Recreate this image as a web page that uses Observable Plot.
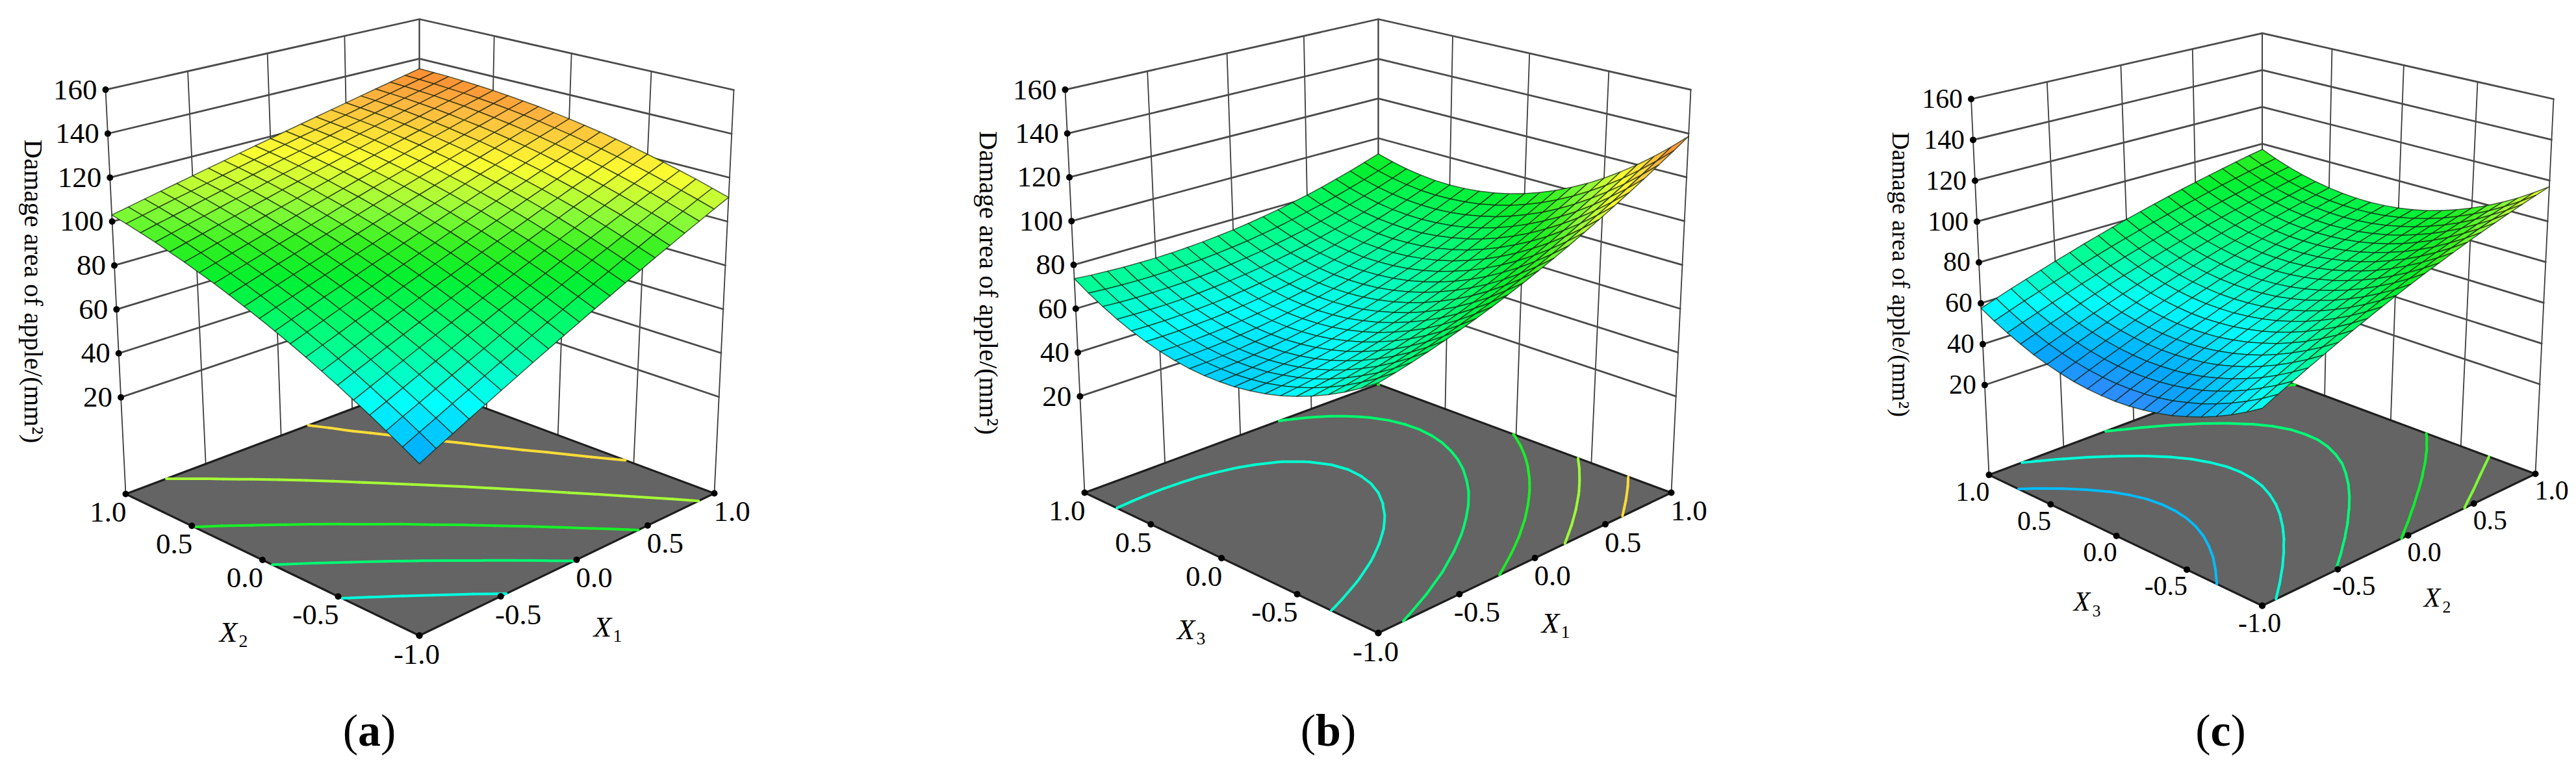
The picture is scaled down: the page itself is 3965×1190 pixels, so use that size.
<!DOCTYPE html>
<html>
<head>
<meta charset="utf-8">
<style>html,body{margin:0;padding:0;background:#fff}svg{display:block}</style>
<script src="https://cdn.jsdelivr.net/npm/d3@7"></script>
<script src="https://cdn.jsdelivr.net/npm/@observablehq/plot@0.6"></script>
</head>
<body>
<div id="chart"></div>
<script>
// Damage area read at 21 x 21 nodes. Rows: second factor -1..1, columns: first factor -1..1.
const surfaceA = [
[44.0,47.4,50.7,54.1,57.4,60.8,64.1,67.5,70.8,74.2,77.5,80.9,84.2,87.6,90.9,94.3,97.6,101.0,104.3,107.7,111.0],
[48.0,51.3,54.5,57.8,61.0,64.3,67.6,70.8,74.1,77.4,80.6,83.9,87.1,90.4,93.7,96.9,100.2,103.5,106.7,110.0,113.2],
[51.9,55.1,58.2,61.4,64.6,67.8,70.9,74.1,77.3,80.5,83.6,86.8,90.0,93.2,96.3,99.5,102.7,105.9,109.0,112.2,115.4],
[55.7,58.7,61.8,64.9,68.0,71.1,74.2,77.3,80.4,83.4,86.5,89.6,92.7,95.8,98.9,102.0,105.1,108.1,111.2,114.3,117.4],
[59.3,62.3,65.3,68.3,71.3,74.3,77.3,80.3,83.3,86.3,89.3,92.3,95.3,98.3,101.3,104.3,107.3,110.3,113.3,116.3,119.3],
[62.9,65.8,68.7,71.6,74.5,77.4,80.3,83.3,86.2,89.1,92.0,94.9,97.8,100.7,103.7,106.6,109.5,112.4,115.3,118.2,121.1],
[66.3,69.1,72.0,74.8,77.6,80.4,83.3,86.1,88.9,91.7,94.6,97.4,100.2,103.0,105.9,108.7,111.5,114.3,117.2,120.0,122.8],
[69.7,72.4,75.1,77.9,80.6,83.3,86.1,88.8,91.6,94.3,97.0,99.8,102.5,105.2,108.0,110.7,113.4,116.2,118.9,121.7,124.4],
[72.9,75.5,78.2,80.8,83.5,86.1,88.8,91.4,94.1,96.7,99.4,102.0,104.7,107.3,110.0,112.6,115.3,117.9,120.6,123.2,125.9],
[76.0,78.6,81.1,83.7,86.2,88.8,91.4,93.9,96.5,99.1,101.6,104.2,106.7,109.3,111.9,114.4,117.0,119.6,122.1,124.7,127.2],
[79.0,81.5,84.0,86.4,88.9,91.4,93.9,96.3,98.8,101.3,103.8,106.2,108.7,111.2,113.7,116.1,118.6,121.1,123.6,126.0,128.5],
[81.9,84.3,86.7,89.1,91.4,93.8,96.2,98.6,101.0,103.4,105.8,108.2,110.5,112.9,115.3,117.7,120.1,122.5,124.9,127.3,129.6],
[84.7,87.0,89.3,91.6,93.9,96.2,98.5,100.8,103.1,105.4,107.7,110.0,112.3,114.6,116.9,119.2,121.5,123.8,126.1,128.4,130.7],
[87.4,89.6,91.8,94.0,96.2,98.4,100.6,102.8,105.1,107.3,109.5,111.7,113.9,116.1,118.3,120.5,122.7,125.0,127.2,129.4,131.6],
[89.9,92.0,94.2,96.3,98.4,100.5,102.7,104.8,106.9,109.0,111.2,113.3,115.4,117.5,119.7,121.8,123.9,126.0,128.2,130.3,132.4],
[92.4,94.4,96.5,98.5,100.5,102.6,104.6,106.6,108.7,110.7,112.8,114.8,116.8,118.9,120.9,122.9,125.0,127.0,129.1,131.1,133.1],
[94.7,96.7,98.6,100.6,102.5,104.5,106.4,108.4,110.3,112.3,114.2,116.2,118.1,120.1,122.0,124.0,125.9,127.9,129.8,131.8,133.7],
[97.0,98.8,100.7,102.5,104.4,106.3,108.1,110.0,111.9,113.7,115.6,117.4,119.3,121.2,123.0,124.9,126.8,128.6,130.5,132.3,134.2],
[99.1,100.9,102.6,104.4,106.2,108.0,109.7,111.5,113.3,115.1,116.8,118.6,120.4,122.2,123.9,125.7,127.5,129.3,131.0,132.8,134.6],
[101.1,102.8,104.5,106.2,107.8,109.5,111.2,112.9,114.6,116.3,118.0,119.7,121.3,123.0,124.7,126.4,128.1,129.8,131.5,133.2,134.8],
[103.0,104.6,106.2,107.8,109.4,111.0,112.6,114.2,115.8,117.4,119.0,120.6,122.2,123.8,125.4,127.0,128.6,130.2,131.8,133.4,135.0]
];
const surfaceB = [
[75.5,77.1,78.9,80.9,83.0,85.3,87.7,90.3,93.1,96.0,99.1,102.3,105.7,109.3,113.0,116.9,120.9,125.1,129.5,134.0,138.7],
[71.0,72.6,74.3,76.1,78.1,80.3,82.6,85.1,87.7,90.6,93.5,96.6,99.9,103.4,107.0,110.8,114.7,118.8,123.0,127.4,132.0],
[67.0,68.5,70.0,71.8,73.7,75.7,77.9,80.3,82.9,85.5,88.4,91.4,94.6,97.9,101.4,105.1,108.9,112.9,117.0,121.3,125.8],
[63.5,64.8,66.3,67.9,69.7,71.6,73.7,76.0,78.4,81.0,83.7,86.6,89.7,92.9,96.3,99.9,103.6,107.4,111.5,115.6,120.0],
[60.4,61.6,63.0,64.5,66.2,68.0,70.0,72.1,74.4,76.9,79.5,82.3,85.3,88.4,91.7,95.1,98.7,102.4,106.4,110.4,114.7],
[57.8,58.9,60.1,61.5,63.1,64.8,66.7,68.7,70.9,73.3,75.8,78.5,81.3,84.3,87.5,90.8,94.3,97.9,101.7,105.7,109.8],
[55.6,56.6,57.7,59.0,60.5,62.1,63.9,65.8,67.9,70.1,72.5,75.1,77.8,80.7,83.8,87.0,90.3,93.9,97.5,101.4,105.4],
[53.9,54.8,55.8,57.0,58.3,59.8,61.5,63.3,65.3,67.4,69.7,72.2,74.8,77.5,80.5,83.6,86.8,90.3,93.8,97.6,101.5],
[52.7,53.4,54.4,55.4,56.6,58.0,59.6,61.3,63.1,65.2,67.3,69.7,72.2,74.9,77.7,80.7,83.8,87.1,90.6,94.2,98.0],
[51.9,52.6,53.3,54.3,55.4,56.7,58.1,59.7,61.5,63.4,65.4,67.7,70.1,72.6,75.3,78.2,81.2,84.4,87.8,91.3,95.0],
[51.6,52.1,52.8,53.6,54.6,55.8,57.1,58.6,60.2,62.0,64.0,66.1,68.4,70.8,73.4,76.2,79.1,82.2,85.4,88.8,92.4],
[51.7,52.2,52.7,53.4,54.3,55.4,56.6,58.0,59.5,61.2,63.0,65.0,67.2,69.5,72.0,74.7,77.5,80.4,83.6,86.9,90.3],
[52.3,52.6,53.1,53.7,54.5,55.4,56.5,57.8,59.2,60.8,62.5,64.4,66.5,68.7,71.0,73.6,76.3,79.1,82.2,85.3,88.7],
[53.4,53.6,53.9,54.4,55.1,55.9,56.9,58.1,59.4,60.8,62.4,64.2,66.2,68.3,70.5,73.0,75.5,78.3,81.2,84.3,87.5],
[54.9,55.0,55.2,55.6,56.2,56.9,57.8,58.8,60.0,61.3,62.8,64.5,66.3,68.3,70.5,72.8,75.3,77.9,80.7,83.7,86.8],
[56.9,56.9,57.0,57.3,57.7,58.3,59.1,60.0,61.1,62.3,63.7,65.3,67.0,68.9,70.9,73.1,75.5,78.0,80.7,83.5,86.5],
[59.3,59.2,59.2,59.4,59.7,60.2,60.8,61.6,62.6,63.7,65.0,66.5,68.1,69.8,71.8,73.9,76.1,78.5,81.1,83.8,86.7],
[62.2,62.0,61.9,61.9,62.1,62.5,63.1,63.8,64.6,65.6,66.8,68.1,69.6,71.3,73.1,75.1,77.2,79.5,82.0,84.6,87.4],
[65.6,65.2,65.0,65.0,65.1,65.3,65.7,66.3,67.1,68.0,69.0,70.3,71.7,73.2,74.9,76.8,78.8,81.0,83.3,85.8,88.5],
[69.4,68.9,68.6,68.4,68.4,68.6,68.9,69.4,70.0,70.8,71.7,72.9,74.1,75.6,77.2,78.9,80.8,82.9,85.1,87.5,90.1],
[73.7,73.1,72.7,72.4,72.3,72.3,72.5,72.9,73.4,74.1,74.9,75.9,77.1,78.4,79.9,81.5,83.3,85.3,87.4,89.7,92.1]
];
const surfaceC = [
[60.0,63.4,66.7,70.0,73.2,76.4,79.5,82.5,85.5,88.5,91.4,94.2,96.9,99.6,102.3,104.9,107.4,109.9,112.3,114.7,117.0],
[55.9,59.2,62.5,65.8,68.9,72.1,75.1,78.1,81.1,84.0,86.8,89.6,92.3,95.0,97.6,100.1,102.6,105.0,107.4,109.7,112.0],
[52.2,55.5,58.8,61.9,65.1,68.2,71.2,74.1,77.0,79.9,82.7,85.4,88.1,90.7,93.3,95.8,98.2,100.6,103.0,105.2,107.4],
[48.9,52.2,55.4,58.5,61.6,64.7,67.6,70.6,73.4,76.2,79.0,81.7,84.3,86.9,89.4,91.8,94.2,96.6,98.9,101.1,103.3],
[46.1,49.3,52.5,55.6,58.6,61.6,64.5,67.4,70.2,73.0,75.7,78.3,80.9,83.4,85.9,88.3,90.7,93.0,95.2,97.4,99.6],
[43.7,46.8,49.9,53.0,56.0,58.9,61.8,64.7,67.4,70.1,72.8,75.4,78.0,80.4,82.9,85.2,87.6,89.8,92.0,94.2,96.3],
[41.6,44.8,47.8,50.9,53.8,56.7,59.6,62.3,65.1,67.7,70.4,72.9,75.4,77.9,80.2,82.6,84.8,87.1,89.2,91.3,93.4],
[40.1,43.1,46.2,49.1,52.0,54.9,57.7,60.4,63.1,65.8,68.3,70.8,73.3,75.7,78.0,80.3,82.5,84.7,86.8,88.9,90.9],
[38.9,41.9,44.9,47.8,50.7,53.5,56.3,59.0,61.6,64.2,66.7,69.2,71.6,73.9,76.2,78.5,80.7,82.8,84.9,86.9,88.8],
[38.1,41.1,44.1,46.9,49.8,52.5,55.2,57.9,60.5,63.0,65.5,67.9,70.3,72.6,74.9,77.1,79.2,81.3,83.3,85.3,87.2],
[37.8,40.8,43.7,46.5,49.3,52.0,54.7,57.3,59.8,62.3,64.8,67.1,69.5,71.7,73.9,76.1,78.2,80.2,82.2,84.1,86.0],
[37.9,40.8,43.7,46.4,49.2,51.9,54.5,57.0,59.6,62.0,64.4,66.7,69.0,71.2,73.4,75.5,77.6,79.6,81.5,83.4,85.2],
[38.4,41.3,44.1,46.8,49.5,52.2,54.7,57.2,59.7,62.1,64.5,66.8,69.0,71.2,73.3,75.4,77.4,79.3,81.2,83.1,84.8],
[39.3,42.2,44.9,47.6,50.3,52.9,55.4,57.9,60.3,62.7,65.0,67.2,69.4,71.5,73.6,75.6,77.6,79.5,81.4,83.2,84.9],
[40.7,43.5,46.2,48.8,51.4,54.0,56.5,58.9,61.3,63.6,65.9,68.1,70.2,72.3,74.4,76.3,78.2,80.1,81.9,83.7,85.4],
[42.5,45.2,47.9,50.5,53.0,55.5,58.0,60.4,62.7,65.0,67.2,69.4,71.5,73.5,75.5,77.4,79.3,81.1,82.9,84.6,86.3],
[44.6,47.3,50.0,52.5,55.0,57.5,59.9,62.3,64.6,66.8,69.0,71.1,73.1,75.1,77.1,79.0,80.8,82.6,84.3,86.0,87.6],
[47.3,49.9,52.5,55.0,57.5,59.9,62.3,64.6,66.8,69.0,71.1,73.2,75.2,77.2,79.1,80.9,82.7,84.4,86.1,87.7,89.3],
[50.3,52.9,55.4,57.9,60.3,62.7,65.0,67.3,69.5,71.6,73.7,75.7,77.7,79.6,81.5,83.3,85.0,86.7,88.4,89.9,91.4],
[53.7,56.3,58.8,61.2,63.6,65.9,68.2,70.4,72.6,74.7,76.7,78.7,80.6,82.5,84.3,86.1,87.8,89.4,91.0,92.5,94.0],
[57.6,60.1,62.6,65.0,67.3,69.6,71.8,74.0,76.1,78.2,80.2,82.1,84.0,85.8,87.6,89.3,90.9,92.5,94.1,95.6,97.0]
];
const contourLevelsA = [62, 77, 92, 107, 122];
const contourLevelsB = [64, 78, 92, 106, 122];
const contourLevelsC = [49, 63, 76, 90, 103];
const zTicks = [20, 40, 60, 80, 100, 120, 140, 160];
const factorTicks = [-1, -0.5, 0, 0.5, 1];
const factorTickLabels = ["-1.0", "-0.5", "0.0", "0.5", "1.0"];
const yTitle = "Damage area of apple/(mm²)";
const zFloor = -24, zCeil = 160;

// Colour ramp shared by surfaces and contours
const rampValues = [36, 46, 52, 58, 72, 88, 96, 104, 116, 128, 137];
const rampColors = ["#4080ff", "#00aaff", "#00d0ff", "#00ffff", "#00ff90", "#00f030", "#30f020", "#88fb38", "#fbff30", "#ffb840", "#ff8030"];

// Box calibration of each panel's view: corners in order front, right, back, left
const panels = [
  {surface: surfaceA, levels: contourLevelsA, k: 1, left: "2", right: "1", tag: "a",
   floor: [[645,978],[1099,759],[645,590],[193,760]], ceil: [[645,262],[1129,138],[645,29],[162,137.6]],
   titleAt: [50,448], titleSize: 40.5, leftAt: [356,973], rightAt: [932,965], tagAt: 568},
  {surface: surfaceB, levels: contourLevelsB, k: 1, left: "3", right: "1", tag: "b",
   floor: [[2121,974],[2572,758],[2121,591],[1669,758]], ceil: [[2121,262],[2602,137.6],[2121,29],[1639,137.6]],
   titleAt: [1520,435], titleSize: 40.5, leftAt: [1830,969], rightAt: [2391,959], tagAt: 2044},
  {surface: surfaceC, levels: contourLevelsC, k: 0.93, left: "3", right: "2", tag: "c",
   floor: [[3481.6,932],[3902,729],[3481.6,573],[3061,730.6]], ceil: [[3481.6,266],[3930,152],[3481.6,50.6],[3033.5,152]],
   titleAt: [2925,422], titleSize: 38, leftAt: [3209,926], rightAt: [3748,920], tagAt: 3417.6}
];

function homography(q) {
  const [[x0,y0],[x1,y1],[x2,y2],[x3,y3]] = q;
  const sx = x0-x1+x2-x3, sy = y0-y1+y2-y3;
  const dx1 = x1-x2, dx2 = x3-x2, dy1 = y1-y2, dy2 = y3-y2;
  const det = dx1*dy2-dx2*dy1;
  const g = (sx*dy2-dx2*sy)/det, h = (dx1*sy-sx*dy1)/det;
  const a = x1-x0+g*x1, b = x3-x0+h*x3, d = y1-y0+g*y1, e = y3-y0+h*y3;
  return (u, v) => {
    const w = g*u+h*v+1;
    return [(a*u+b*v+x0)/w, (d*u+e*v+y0)/w];
  };
}
function projector(p) {
  const hf = homography(p.floor), hc = homography(p.ceil);
  return (x, y, z) => {
    const u = (x+1)/2, v = (y+1)/2, t = (z-zFloor)/(zCeil-zFloor);
    const f = hf(u,v), c = hc(u,v);
    return {x: f[0]+(c[0]-f[0])*t, y: f[1]+(c[1]-f[1])*t};
  };
}
const serif = "Liberation Serif";
const black = "#000";
const node = i => -1 + i/10;

const marks = [];
for (const p of panels) {
  const P = projector(p);
  const fs = 45*p.k;

  // Walls: vertical rulings and horizontal rulings
  const verticals = [], horizontals = [];
  factorTicks.forEach((t, n) => {
    verticals.push({...P(t,1,zFloor), id:"l"+n}, {...P(t,1,zCeil), id:"l"+n});
    verticals.push({...P(1,t,zFloor), id:"r"+n}, {...P(1,t,zCeil), id:"r"+n});
  });
  for (const z of zTicks) {
    horizontals.push({...P(-1,1,z), id:z}, {...P(1,1,z), id:z}, {...P(1,-1,z), id:z});
  }
  marks.push(Plot.line(verticals, {x:"x", y:"y", z:"id", stroke:"#3c3c3c", strokeWidth:1.8}));
  marks.push(Plot.line(horizontals, {x:"x", y:"y", z:"id", stroke:"#4a4a4a", strokeWidth:2.8}));

  // Floor
  const floorRing = [P(-1,-1,zFloor), P(1,-1,zFloor), P(1,1,zFloor), P(-1,1,zFloor), P(-1,-1,zFloor)];
  marks.push(Plot.line(floorRing, {x:"x", y:"y", fill:"#646464", stroke:"#1e1e1e", strokeWidth:3.2}));

  // Contours on the floor, traced from the surface values
  const segs = [];
  const S = p.surface;
  for (const lv of p.levels) {
    for (let j = 0; j < 20; j++) for (let i = 0; i < 20; i++) {
      const c = [[i,j,S[j][i]],[i+1,j,S[j][i+1]],[i+1,j+1,S[j+1][i+1]],[i,j+1,S[j+1][i]]];
      const hits = [];
      for (let e = 0; e < 4; e++) {
        const A = c[e], B = c[(e+1)%4];
        if ((A[2] >= lv) !== (B[2] >= lv)) {
          const f = (lv-A[2])/(B[2]-A[2]);
          hits.push(P(node(A[0]+(B[0]-A[0])*f), node(A[1]+(B[1]-A[1])*f), zFloor));
        }
      }
      if (hits.length >= 2) segs.push({x1:hits[0].x, y1:hits[0].y, x2:hits[1].x, y2:hits[1].y, v:lv});
      if (hits.length === 4) segs.push({x1:hits[2].x, y1:hits[2].y, x2:hits[3].x, y2:hits[3].y, v:lv});
    }
  }
  marks.push(Plot.link(segs, {x1:"x1", y1:"y1", x2:"x2", y2:"y2", stroke:"v", strokeWidth:4, strokeLinecap:"round"}));

  // Surface, painted from the back corner towards the front
  const cells = [];
  for (let j = 19; j >= 0; j--) for (let i = 19; i >= 0; i--) {
    const v = (S[j][i]+S[j][i+1]+S[j+1][i+1]+S[j+1][i])/4;
    const id = i + "_" + j;
    for (const [a,b] of [[i,j],[i+1,j],[i+1,j+1],[i,j+1],[i,j]]) {
      cells.push({...P(node(a),node(b),S[b][a]), id, v});
    }
  }
  marks.push(Plot.line(cells, {x:"x", y:"y", z:"id", fill:"v", stroke:"#10200c", strokeOpacity:0.72, strokeWidth:1.5, strokeLinejoin:"round"}));

  // Tick dots and labels
  const dots = [
    ...zTicks.map(z => P(-1,1,z)),
    ...factorTicks.map(t => P(-1,t,zFloor)),
    ...factorTicks.map(t => P(t,-1,zFloor))
  ];
  marks.push(Plot.dot(dots, {x:"x", y:"y", r:5, fill:black}));
  marks.push(Plot.text(zTicks.map(z => ({...P(-1,1,z), t:String(z)})),
    {x:"x", y:"y", text:"t", textAnchor:"end", dx:-13, fontFamily:serif, fontSize:fs, fill:black}));
  const leftLabels = factorTicks.map((t,n) => ({...P(-1,t,zFloor), t:factorTickLabels[n], n})).filter(d => d.n > 0);
  const rightLabels = factorTicks.map((t,n) => ({...P(t,-1,zFloor), t:factorTickLabels[n], n})).filter(d => d.n > 0);
  marks.push(Plot.text(leftLabels, {x:"x", y:"y", text:"t", textAnchor:"end", dx:1*p.k, dy:28*p.k, fontFamily:serif, fontSize:fs, fill:black}));
  marks.push(Plot.text(rightLabels, {x:"x", y:"y", text:"t", textAnchor:"middle", dx:27*p.k, dy:28*p.k, fontFamily:serif, fontSize:fs, fill:black}));
  marks.push(Plot.text([{...P(-1,-1,zFloor), t:factorTickLabels[0]}], {x:"x", y:"y", text:"t", textAnchor:"middle", dx:-4, dy:29*p.k, fontFamily:serif, fontSize:fs, fill:black}));

  // Axis names: italic X with a roman subscript digit, and the z title
  const names = [{x:p.leftAt[0], y:p.leftAt[1], d:p.left},{x:p.rightAt[0], y:p.rightAt[1], d:p.right}];
  marks.push(Plot.text(names, {x:"x", y:"y", text:() => "X", dx:-5, fontFamily:serif, fontStyle:"italic", fontSize:fs, fill:black}));
  marks.push(Plot.text(names, {x:"x", y:"y", text:"d", textAnchor:"start", dx:11, dy:14, fontFamily:serif, fontSize:fs*0.62, fill:black}));
  marks.push(Plot.text([{x:p.titleAt[0], y:p.titleAt[1], t:yTitle}],
    {x:"x", y:"y", text:"t", rotate:90, fontFamily:serif, fontSize:p.titleSize, fill:black}));

  // Panel tag: (a) with bold letter
  const tagY = 1125, half = {a:17.5, b:19.5, c:15.5}[p.tag];
  marks.push(Plot.text([{x:p.tagAt, y:tagY, t:p.tag}], {x:"x", y:"y", text:"t", fontFamily:serif, fontWeight:"bold", fontSize:70, fill:black}));
  marks.push(Plot.text([{x:p.tagAt-half, y:tagY, t:"("}], {x:"x", y:"y", text:"t", textAnchor:"end", fontFamily:serif, fontSize:70, fill:black}));
  marks.push(Plot.text([{x:p.tagAt+half, y:tagY, t:")"}], {x:"x", y:"y", text:"t", textAnchor:"start", fontFamily:serif, fontSize:70, fill:black}));
}

const chart = Plot.plot({
  width: 3965,
  height: 1190,
  marginTop: 0, marginRight: 0, marginBottom: 0, marginLeft: 0,
  x: {domain: [0, 3965], range: [0, 3965], axis: null},
  y: {domain: [0, 1190], range: [0, 1190], axis: null},
  color: {type: "linear", domain: rampValues, range: rampColors, interpolate: "rgb", legend: false},
  style: {background: "#fff"},
  marks
});
document.getElementById("chart").append(chart);
</script>
</body>
</html>
